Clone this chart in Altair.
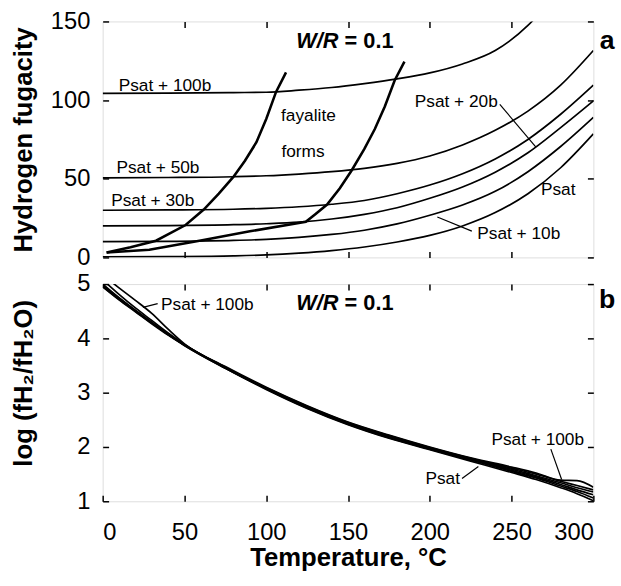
import altair as alt
import pandas as pd

FONT = "Liberation Sans"
TICK = 6

# ---------------- panel a : hydrogen fugacity ----------------
T_a = [0, 40, 80, 100, 120, 140, 160, 180, 200, 220, 240, 260, 280, 300]
a_psat = [0.3, 0.5, 1.0, 1.6, 2.7, 4.3, 6.6, 9.8, 14.0, 20.0, 28.5, 40.5, 57.0, 78.5]
a_p10 = [10.0, 10.2, 10.8, 11.5, 12.7, 14.6, 17.3, 21.3, 26.8, 33.3, 42.0, 54.5, 70.5, 89.0]
a_p20 = [20.0, 20.2, 20.8, 21.4, 22.4, 24.4, 27.4, 31.6, 37.6, 44.8, 54.2, 66.5, 82.5, 99.5]
a_p30 = [30.0, 30.2, 30.6, 31.2, 32.2, 33.8, 36.2, 40.5, 46.0, 53.2, 62.6, 75.0, 91.0, 109.5]
a_p50 = [50.6, 50.8, 51.3, 51.9, 53.0, 54.5, 56.6, 59.8, 64.5, 71.5, 80.8, 93.0, 109.5, 131.5]
a_p100 = [104.3, 104.4, 104.8, 105.0, 106.3, 108.0, 110.5, 113.5, 117.3, 123.0, 131.5, 147.5, 172.0, 205.0]

# fayalite-forming boundaries
fay1_T = [2.4, 17, 32.6, 50.7, 61.8, 71, 79.9, 87, 94, 100, 106, 112.1]
fay1_V = [3.1, 6.5, 10.6, 20.6, 30.4, 40.5, 51.2, 61.5, 73.2, 88, 105.2, 117.6]
fay2_T = [2.4, 28.5, 60, 90, 124.2, 130, 137.2, 145, 152.3, 160, 166.4, 172.5, 178.5, 184.5]
fay2_V = [3.1, 4.9, 10.8, 16.6, 22.6, 27.5, 33.6, 44, 55.4, 69, 81.6, 96, 112.5, 124.5]

# ---------------- panel b : log(fH2/fH2O) ----------------
T_b = [0, 10, 20, 30, 40, 50, 75, 100, 125, 150, 175, 200, 225, 250, 265, 280, 290, 300]
b_psat = [4.95, 4.71, 4.49, 4.27, 4.06, 3.87, 3.45, 3.06, 2.71, 2.41, 2.16, 1.95, 1.74, 1.53, 1.40, 1.25, 1.14, 1.01]
b_p10 = [4.96, 4.72, 4.50, 4.28, 4.07, 3.87, 3.45, 3.07, 2.72, 2.42, 2.17, 1.96, 1.76, 1.55, 1.43, 1.28, 1.18, 1.06]
b_p20 = [4.98, 4.74, 4.51, 4.29, 4.07, 3.88, 3.46, 3.08, 2.73, 2.43, 2.19, 1.97, 1.77, 1.57, 1.45, 1.31, 1.21, 1.12]
b_p30 = [5.00, 4.75, 4.52, 4.30, 4.08, 3.88, 3.46, 3.08, 2.74, 2.44, 2.20, 1.98, 1.78, 1.59, 1.47, 1.34, 1.25, 1.17]
b_p50 = [5.08, 4.81, 4.56, 4.33, 4.10, 3.89, 3.47, 3.09, 2.75, 2.45, 2.21, 1.99, 1.79, 1.61, 1.50, 1.37, 1.29, 1.21]
b_p100 = [5.17, 4.93, 4.70, 4.46, 4.17, 3.90, 3.48, 3.10, 2.76, 2.46, 2.22, 2.00, 1.80, 1.63, 1.52, 1.39, 1.38, 1.26]

series_names = ["Psat", "Psat + 10b", "Psat + 20b", "Psat + 30b", "Psat + 50b", "Psat + 100b"]

# labels (text, T, value)
a_label_text = ["Psat + 100b", "Psat + 50b", "Psat + 30b", "fayalite", "forms", "Psat + 20b", "Psat", "Psat + 10b"]
a_label_T = [38.1, 33.8, 30.6, 125.8, 122.5, 216.2, 278.5, 254.4]
a_label_V = [105.6, 53.4, 32.5, 86.8, 63.8, 95.9, 39.7, 11.5]
a_leader = {"T": [242.8, 204.6], "V": [97.3, 25.7], "T2": [264.9, 225.7], "V2": [70.1, 16.7]}

b_label_text = ["Psat + 100b", "Psat + 100b", "Psat"]
b_label_T = [64.0, 266.0, 207.9]
b_label_V = [4.52, 2.04, 1.31]
b_leader = {"T": [24.6, 274.0, 219.7], "V": [4.57, 1.96, 1.42], "T2": [33.6, 280.6, 229.7], "V2": [4.64, 1.40, 1.64]}


def long_df(T, cols):
    rows = []
    for name, vals in zip(series_names, cols):
        for t, v in zip(T, vals):
            rows.append({"T": t, "V": v, "series": name})
    return pd.DataFrame(rows)


df_a = long_df(T_a, [a_psat, a_p10, a_p20, a_p30, a_p50, a_p100])
df_b = long_df(T_b, [b_psat, b_p10, b_p20, b_p30, b_p50, b_p100])
df_fay = pd.concat([
    pd.DataFrame({"T": fay1_T, "V": fay1_V, "curve": "F1"}),
    pd.DataFrame({"T": fay2_T, "V": fay2_V, "curve": "F2"}),
])
df_alab = pd.DataFrame({"T": a_label_T, "V": a_label_V, "text": a_label_text})
df_blab = pd.DataFrame({"T": b_label_T, "V": b_label_V, "text": b_label_text})
df_alead = pd.DataFrame(a_leader)
df_blead = pd.DataFrame(b_leader)

x_scale = alt.Scale(domain=[0, 300], nice=False, zero=False)
ya_scale = alt.Scale(domain=[0, 150], nice=False)
yb_scale = alt.Scale(domain=[1, 5], nice=False, zero=False)


def axis(orient, values, labels=False, **kw):
    return alt.Axis(orient=orient, values=values, offset=-TICK, tickSize=TICK,
                    domain=False, grid=False, labels=labels, ticks=True,
                    tickColor="black", tickWidth=1.5,
                    labelFont=FONT, labelFontSize=24, labelColor="black",
                    titleFont=FONT, titleFontSize=26, titleFontWeight="bold",
                    titleColor="black", **kw)


X_IN = [50, 100, 150, 200, 250]


def panel(df_lines, yscale, yvals, ytitle, xlabels, df_lab, df_lead, wr_V, letter, letter_V, extra, titleY):
    xb_kwargs = dict(title=None)
    if xlabels:
        xb_kwargs = dict(title="Temperature, °C", labelPadding=20, titlePadding=0)
    xvals_bottom = [0, 50, 100, 150, 200, 250, 300] if xlabels else X_IN
    base = alt.Chart(df_lines).mark_line(color="black", strokeWidth=1.7, clip=True,
                                         interpolate="monotone").encode(
        x=alt.X("T:Q", scale=x_scale, axis=axis("bottom", xvals_bottom, labels=xlabels, **xb_kwargs)),
        y=alt.Y("V:Q", scale=yscale,
                axis=axis("left", yvals, labels=True, title=ytitle, labelPadding=13,
                          titleX=-78, titleY=titleY, titleBaseline="alphabetic")),
        detail="series:N",
    )
    frame = alt.Chart(df_lab).mark_point(opacity=0).encode(
        x=alt.X("T:Q", scale=x_scale, axis=axis("top", X_IN, title=None)),
        y=alt.Y("V:Q", scale=yscale, axis=axis("right", yvals, title=None)),
    )
    labels = alt.Chart(df_lab).mark_text(font=FONT, fontSize=17.5, color="black", align="center",
                                         baseline="alphabetic").encode(
        x=alt.X("T:Q", scale=x_scale, axis=None),
        y=alt.Y("V:Q", scale=yscale, axis=None),
        text="text:N",
    )
    leads = alt.Chart(df_lead).mark_rule(color="black", strokeWidth=1.2).encode(
        x=alt.X("T:Q", scale=x_scale, axis=None),
        y=alt.Y("V:Q", scale=yscale, axis=None),
        x2="T2:Q", y2="V2:Q",
    )
    wr_df = pd.DataFrame({"T": [144.2], "V": [wr_V], "text": ["W/R"]})
    eq_df = pd.DataFrame({"T": [147.9], "V": [wr_V], "text": ["= 0.1"]})
    wr = alt.Chart(wr_df).mark_text(font=FONT, fontSize=22, fontWeight="bold", fontStyle="italic",
                                    align="right", baseline="alphabetic", color="black").encode(
        x=alt.X("T:Q", scale=x_scale, axis=None), y=alt.Y("V:Q", scale=yscale, axis=None), text="text:N")
    eq = alt.Chart(eq_df).mark_text(font=FONT, fontSize=22, fontWeight="bold",
                                    align="left", baseline="alphabetic", color="black").encode(
        x=alt.X("T:Q", scale=x_scale, axis=None), y=alt.Y("V:Q", scale=yscale, axis=None), text="text:N")
    let_df = pd.DataFrame({"T": [308.4], "V": [letter_V], "text": [letter]})
    let = alt.Chart(let_df).mark_text(font=FONT, fontSize=27, fontWeight="bold",
                                      align="center", baseline="alphabetic", color="black").encode(
        x=alt.X("T:Q", scale=x_scale, axis=None), y=alt.Y("V:Q", scale=yscale, axis=None), text="text:N")
    layers = [base, frame] + extra + [labels, leads, wr, eq, let]
    return alt.layer(*layers).resolve_axis(x="independent", y="independent")


fay_layer = alt.Chart(df_fay).mark_line(color="black", strokeWidth=2.6, clip=True).encode(
    x=alt.X("T:Q", scale=x_scale, axis=None),
    y=alt.Y("V:Q", scale=ya_scale, axis=None),
    detail="curve:N",
)

top = panel(df_a, ya_scale, [0, 50, 100, 150], "Hydrogen fugacity", False, df_alab, df_alead,
            132.9, "a", 132.5, [fay_layer], 119.5).properties(width=497, height=239)
bottom = panel(df_b, yb_scale, [1, 2, 3, 4, 5], "log (fH₂/fH₂O)", True, df_blab, df_blead,
               4.53, "b", 4.56, [], 100).properties(width=497, height=220)

chart = alt.vconcat(top, bottom, spacing=27, bounds="flush").properties(
    padding={"left": 10, "top": 5, "right": 5, "bottom": 5}
).configure_view(stroke="black", strokeWidth=2).configure(background="white")

chart.save("out.html", embed_options={"renderer": "svg", "actions": False})
